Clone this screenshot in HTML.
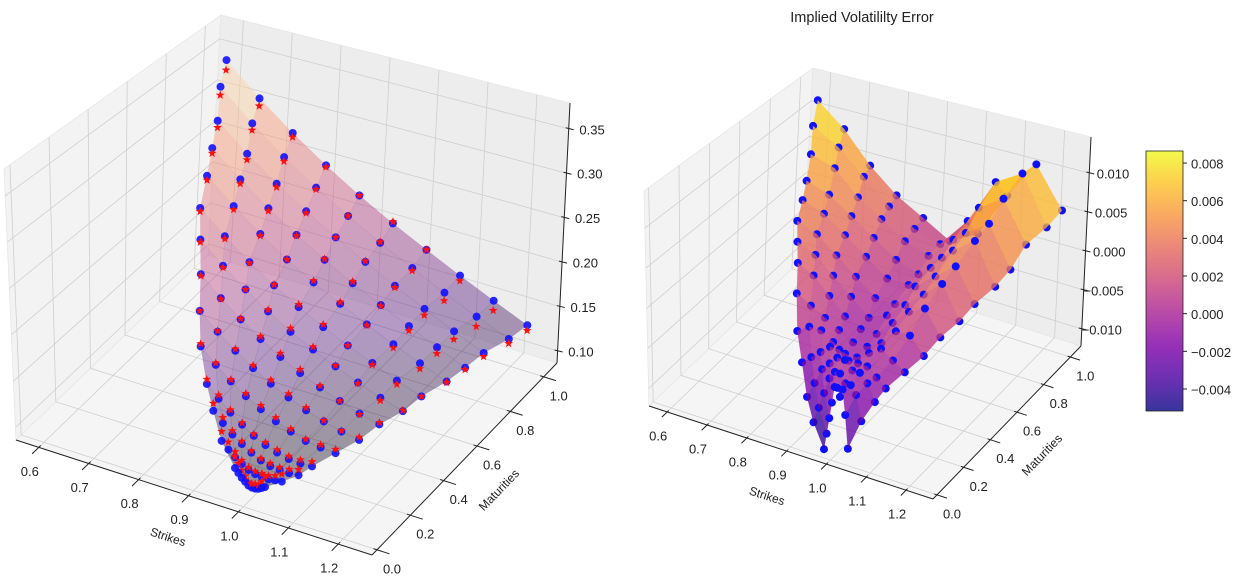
<!DOCTYPE html>
<html><head><meta charset="utf-8">
<style>
html,body{margin:0;padding:0;background:#fff;}
svg{display:block;font-family:"Liberation Sans","DejaVu Sans",sans-serif;}
</style></head>
<body>
<svg id="fig" width="1245" height="582" viewBox="0 0 1245 582">
  <defs>
    <linearGradient id="plasmaGrad" x1="0" y1="1" x2="0" y2="0">
      <stop offset="0" stop-color="#0d0887"/>
      <stop offset="0.125" stop-color="#4c02a1"/>
      <stop offset="0.25" stop-color="#7e03a8"/>
      <stop offset="0.375" stop-color="#a92395"/>
      <stop offset="0.5" stop-color="#cc4778"/>
      <stop offset="0.625" stop-color="#e56b5d"/>
      <stop offset="0.75" stop-color="#f89540"/>
      <stop offset="0.875" stop-color="#fdc328"/>
      <stop offset="1" stop-color="#f0f921"/>
    </linearGradient>
  </defs>
  <g id="leftPlot"></g>
  <g id="rightPlot"></g>
  <text x="862" y="22" font-size="14.5" text-anchor="middle" fill="#222">Implied Volatililty Error</text>
  <text x="168" y="537" font-size="12" text-anchor="middle" dominant-baseline="central" fill="#222" transform="rotate(18 168 537)">Strikes</text>
  <text x="499" y="490" font-size="12" text-anchor="middle" dominant-baseline="central" fill="#222" transform="rotate(-46 499 490)">Maturities</text>
  <text x="767" y="496" font-size="12" text-anchor="middle" dominant-baseline="central" fill="#222" transform="rotate(18 767 496)">Strikes</text>
  <text x="1042" y="455" font-size="12" text-anchor="middle" dominant-baseline="central" fill="#222" transform="rotate(-46 1042 455)">Maturities</text>
  <g id="colorbar">
    <rect x="1146" y="151" width="37" height="260" fill="url(#plasmaGrad)" opacity="0.82"/>
    <rect x="1146" y="151" width="37" height="260" fill="none" stroke="#222" stroke-width="0.8"/>
  </g>
</svg>
<script>
// ---- data ----
const maturities = [0.04,0.08,0.12,0.17,0.25,0.33,0.42,0.5,0.58,0.67,0.75,0.83,0.92,1.0];
const strikeLow  = [0.97,0.93,0.90,0.87,0.83,0.80,0.77,0.74,0.71,0.69,0.67,0.65,0.62,0.60];
const strikeHigh = [1.03,1.05,1.07,1.08,1.10,1.12,1.13,1.15,1.16,1.18,1.19,1.20,1.22,1.23];
const impliedVol = [
 [0.115,0.111,0.107,0.104,0.101,0.100,0.100,0.101,0.103,0.105],
 [0.130,0.123,0.117,0.112,0.108,0.106,0.105,0.105,0.106,0.107],
 [0.150,0.140,0.131,0.124,0.118,0.113,0.110,0.109,0.109,0.110],
 [0.165,0.153,0.142,0.133,0.125,0.119,0.115,0.112,0.111,0.112],
 [0.185,0.170,0.157,0.146,0.137,0.129,0.123,0.118,0.116,0.115],
 [0.205,0.188,0.173,0.160,0.149,0.140,0.132,0.126,0.121,0.118],
 [0.225,0.205,0.188,0.173,0.160,0.149,0.140,0.132,0.125,0.120],
 [0.245,0.223,0.204,0.187,0.172,0.160,0.149,0.139,0.130,0.123],
 [0.262,0.238,0.217,0.199,0.183,0.169,0.157,0.146,0.135,0.126],
 [0.280,0.254,0.231,0.211,0.194,0.179,0.165,0.152,0.140,0.129],
 [0.295,0.268,0.244,0.223,0.204,0.187,0.172,0.158,0.144,0.131],
 [0.310,0.281,0.256,0.234,0.214,0.196,0.179,0.163,0.148,0.134],
 [0.330,0.297,0.268,0.243,0.221,0.201,0.183,0.166,0.150,0.136],
 [0.345,0.310,0.280,0.253,0.229,0.208,0.189,0.171,0.154,0.138]
];
const volError = [
 [-0.012,-0.010,-0.008,-0.006,-0.004,-0.004,-0.005,-0.004,-0.007,-0.011],
 [-0.010,-0.008,-0.006,-0.004,-0.003,-0.003,-0.004,-0.004,-0.005,-0.008],
 [-0.008,-0.006,-0.004,-0.003,-0.002,-0.002,-0.003,-0.003,-0.004,-0.006],
 [-0.005,-0.004,-0.003,-0.002,-0.002,-0.003,-0.003,-0.003,-0.004,-0.005],
 [-0.003,-0.002,-0.002,-0.003,-0.004,-0.004,-0.003,-0.002,-0.003,-0.004],
 [0.000,-0.001,-0.002,-0.003,-0.004,-0.004,-0.003,-0.001,-0.001,-0.003],
 [0.002,0.001,-0.001,-0.003,-0.004,-0.004,-0.002,0.000,0.001,-0.002],
 [0.003,0.002,0.000,-0.002,-0.004,-0.003,-0.001,0.001,0.003,-0.001],
 [0.004,0.003,0.001,-0.001,-0.003,-0.003,0.000,0.002,0.004,0.000],
 [0.005,0.004,0.002,0.000,-0.002,-0.002,0.001,0.004,0.006,0.001],
 [0.006,0.005,0.003,0.001,-0.001,-0.002,0.001,0.005,0.007,0.002],
 [0.008,0.007,0.004,0.002,0.000,-0.001,0.002,0.007,0.009,0.004],
 [0.010,0.008,0.005,0.002,0.000,-0.001,0.003,0.009,0.011,0.005],
 [0.012,0.009,0.005,0.002,0.000,-0.002,0.000,0.006,0.011,0.006]
];
const xTickValues = [0.6,0.7,0.8,0.9,1.0,1.1,1.2];
const yTickValues = [0.0,0.2,0.4,0.6,0.8,1.0];
const zTickLeft = [0.10,0.15,0.20,0.25,0.30,0.35];
const zTickRight = [-0.010,-0.005,0.000,0.005,0.010];
const cbTickValues = [-0.004,-0.002,0.000,0.002,0.004,0.006,0.008];

// ---- configuration ----
const NS = "http://www.w3.org/2000/svg";
const nCols = 10;
const leftCfg = {
  C: [[[[16,440],[4,169]],[[208,255],[221,15]]],[[[372,555],[373,270]],[[557,363],[570,103]]]],
  xlim:[0.5543,1.2677], ylim:[-0.03,1.08], zlim:[0.0865,0.379]
};
const rightCfg = {
  C: [[[[649,406],[644,191]],[[803,258],[813,68]]],[[[933,499],[935,274]],[[1081,346],[1091,137]]]],
  xlim:[0.5543,1.2677], ylim:[-0.03,1.08], zlim:[-0.01218,0.01462]
};
const cbMin = -0.00517, cbMax = 0.00864, cbTop = 151, cbBottom = 411;
const surfMin = -0.012, surfMax = 0.012;

const magma = [[0,0,0,4],[0.25,81,18,124],[0.5,183,55,121],[0.75,252,137,97],[1,252,253,191]];
const plasma = [[0,13,8,135],[0.125,76,2,161],[0.25,126,3,168],[0.375,169,35,149],[0.5,204,71,120],[0.625,229,107,93],[0.75,248,149,64],[0.875,253,195,40],[1,240,249,33]];
function cmap(stops,t){
  t=Math.max(0,Math.min(1,t));
  for(let i=1;i<stops.length;i++){
    if(t<=stops[i][0]){
      const a=stops[i-1],b=stops[i],f=(t-a[0])/(b[0]-a[0]);
      return `rgb(${Math.round(a[1]+(b[1]-a[1])*f)},${Math.round(a[2]+(b[2]-a[2])*f)},${Math.round(a[3]+(b[3]-a[3])*f)})`;
    }
  }
  return `rgb(${stops[stops.length-1].slice(1).join(',')})`;
}
function P(cfg,u,v,w){
  let x=0,y=0;
  for(let i=0;i<2;i++)for(let j=0;j<2;j++)for(let k=0;k<2;k++){
    const wt=(i?u:1-u)*(j?v:1-v)*(k?w:1-w);
    x+=wt*cfg.C[i][j][k][0]; y+=wt*cfg.C[i][j][k][1];
  }
  return [x,y];
}
function U(cfg,K){return (K-cfg.xlim[0])/(cfg.xlim[1]-cfg.xlim[0]);}
function V(cfg,T){return (T-cfg.ylim[0])/(cfg.ylim[1]-cfg.ylim[0]);}
function W(cfg,z){return (z-cfg.zlim[0])/(cfg.zlim[1]-cfg.zlim[0]);}
function depth(u,v,w){return 0.433*u-0.75*v+0.5*w;}
function mk(parent,tag,attrs){
  const el=document.createElementNS(NS,tag);
  for(const k in attrs) el.setAttribute(k,attrs[k]);
  parent.appendChild(el);
  return el;
}
function pts(arr){return arr.map(p=>p[0].toFixed(1)+","+p[1].toFixed(1)).join(" ");}
function fmt(v,d){const s=Math.abs(v).toFixed(d);return (v< -1e-12?"\u2212":"")+s;}
function strikeAt(r,c){return strikeLow[r]+(strikeHigh[r]-strikeLow[r])*c/(nCols-1);}

function drawAxes(g,cfg,zTicks,zDec,zLabelEnd){
  const C=(u,v,w)=>P(cfg,u,v,w);
  const panes=[
    {p:[C(0,0,0),C(0,1,0),C(0,1,1),C(0,0,1)],fill:"#f3f3f3",name:"left-wall-pane"},
    {p:[C(0,1,0),C(1,1,0),C(1,1,1),C(0,1,1)],fill:"#ededed",name:"back-wall-pane"},
    {p:[C(0,0,0),C(1,0,0),C(1,1,0),C(0,1,0)],fill:"#f5f5f5",name:"floor-pane"}
  ];
  panes.forEach(pn=>{
    const el=mk(g,"polygon",{points:pts(pn.p),fill:pn.fill,stroke:"#e6e6e6","stroke-width":0.8});
    
    
  });
  const gl={stroke:"#cfcfcf","stroke-width":0.8};
  xTickValues.forEach(x=>{const u=U(cfg,x);
    const el=mk(g,"polyline",Object.assign({points:pts([C(u,0,0),C(u,1,0),C(u,1,1)]),fill:"none"},gl));
    
    
  });
  yTickValues.forEach(y=>{const v=V(cfg,y);
    const el=mk(g,"polyline",Object.assign({points:pts([C(1,v,0),C(0,v,0),C(0,v,1)]),fill:"none"},gl));
    
    
  });
  zTicks.forEach(z=>{const w=W(cfg,z);
    const el=mk(g,"polyline",Object.assign({points:pts([C(0,0,w),C(0,1,w),C(1,1,w)]),fill:"none"},gl));
    
    
  });
  const ax=[[C(0,0,0),C(1,0,0),"x-axis-line"],[C(1,0,0),C(1,1,0),"y-axis-line"],[C(1,1,0),C(1,1,1),"z-axis-line"]];
  ax.forEach(a=>{
    const el=mk(g,"line",{x1:a[0][0],y1:a[0][1],x2:a[1][0],y2:a[1][1],stroke:"#222","stroke-width":1});
    
    
  });
  xTickValues.forEach(x=>{const u=U(cfg,x);
    const a=C(u,0.01,0),b=C(u,-0.035,0);
    const t=mk(g,"line",{x1:a[0],y1:a[1],x2:b[0],y2:b[1],stroke:"#222","stroke-width":1});
    
    
    const p=C(u,0,0);
    const lb=mk(g,"text",{x:p[0]-9,y:p[1]+24,"font-size":13,"text-anchor":"middle","dominant-baseline":"central",fill:"#222"});
    lb.textContent=x.toFixed(1);
    
    
  });
  yTickValues.forEach(y=>{const v=V(cfg,y);
    const a=C(0.99,v,0),b=C(1.035,v,0);
    const t=mk(g,"line",{x1:a[0],y1:a[1],x2:b[0],y2:b[1],stroke:"#222","stroke-width":1});
    
    
    const p=C(1,v,0);
    const lb=mk(g,"text",{x:p[0]+15,y:p[1]+19,"font-size":13,"text-anchor":"middle","dominant-baseline":"central",fill:"#222"});
    lb.textContent=y.toFixed(1);
    
    
  });
  zTicks.forEach(z=>{const w=W(cfg,z);
    const p=C(1,1,w);
    const t=mk(g,"line",{x1:p[0]-3,y1:p[1]-1,x2:p[0]+5,y2:p[1]+1,stroke:"#222","stroke-width":1});
    
    
    const lb=mk(g,"text",{x:p[0]+zLabelEnd,y:p[1]+1,"font-size":13,"text-anchor":"end","dominant-baseline":"central",fill:"#222"});
    lb.textContent=fmt(z,zDec);
    
    
  });
}

function starPts(x,y,R){
  const r=R*0.42, out=[];
  for(let i=0;i<10;i++){const a=-Math.PI/2+i*Math.PI/5, rr=i%2?r:R; out.push([x+rr*Math.cos(a),y+rr*Math.sin(a)]);}
  return pts(out);
}

// ---- left plot ----
(function(){
  const g=document.getElementById("leftPlot"), cfg=leftCfg;
  drawAxes(g,cfg,zTickLeft,2,36);
  let zmin=Infinity,zmax=-Infinity;
  impliedVol.forEach(r=>r.forEach(v=>{zmin=Math.min(zmin,v);zmax=Math.max(zmax,v);}));
  const quads=[];
  for(let r=0;r<maturities.length-1;r++)for(let c=0;c<nCols-1;c++){
    const corners=[[r,c],[r,c+1],[r+1,c+1],[r+1,c]];
    let du=0,dv=0,dw=0,zs=0;
    const p=corners.map(([rr,cc])=>{const u=U(cfg,strikeAt(rr,cc)),v=V(cfg,maturities[rr]),w=W(cfg,impliedVol[rr][cc]);du+=u;dv+=v;dw+=w;zs+=impliedVol[rr][cc];return P(cfg,u,v,w);});
    quads.push({p,d:depth(du/4,dv/4,dw/4),z:zs/4});
  }
  quads.sort((a,b)=>a.d-b.d);
  const sg=mk(g,"g",{});
  
  
  quads.forEach(q=>{
    const col=cmap(magma,(q.z-zmin)/(zmax-zmin));
    const el=mk(sg,"polygon",{points:pts(q.p),fill:col,"fill-opacity":0.4,stroke:col,"stroke-opacity":0.15,"stroke-width":0.4});
    
    
  });
  const marks=[];
  for(let r=0;r<maturities.length;r++)for(let c=0;c<nCols;c++){
    const u=U(cfg,strikeAt(r,c)),v=V(cfg,maturities[r]);
    const w1=W(cfg,impliedVol[r][c]), w2=W(cfg,impliedVol[r][c]-volError[r][c]);
    marks.push({d:depth(u,v,w1),a:P(cfg,u,v,w1),b:P(cfg,u,v,w2)});
  }
  marks.sort((a,b)=>a.d-b.d);
  const mg=mk(g,"g",{});
  
  
  marks.forEach(m=>{
    const c=mk(mg,"circle",{cx:m.a[0],cy:m.a[1],r:4,fill:"#1010ff","fill-opacity":0.9});
    
    
    const s=mk(mg,"polygon",{points:starPts(m.b[0],m.b[1],4.6),fill:"#ff1010"});
    
    
  });
})();

// ---- right plot ----
(function(){
  const g=document.getElementById("rightPlot"), cfg=rightCfg;
  drawAxes(g,cfg,zTickRight,3,40);
  const items=[];
  for(let r=0;r<maturities.length-1;r++)for(let c=0;c<nCols-1;c++){
    const corners=[[r,c],[r,c+1],[r+1,c+1],[r+1,c]];
    let du=0,dv=0,dw=0,zs=0;
    const p=corners.map(([rr,cc])=>{const u=U(cfg,strikeAt(rr,cc)),v=V(cfg,maturities[rr]),w=W(cfg,volError[rr][cc]);du+=u;dv+=v;dw+=w;zs+=volError[rr][cc];return P(cfg,u,v,w);});
    items.push({t:"q",p,d:depth(du/4,dv/4,dw/4),z:zs/4});
  }
  for(let r=0;r<maturities.length;r++)for(let c=0;c<nCols;c++){
    const u=U(cfg,strikeAt(r,c)),v=V(cfg,maturities[r]),w=W(cfg,volError[r][c]);
    items.push({t:"p",p:P(cfg,u,v,w),d:depth(u,v,w)+0.004});
  }
  items.sort((a,b)=>a.d-b.d);
  const sg=mk(g,"g",{});
  
  
  items.forEach(it=>{
    if(it.t==="q"){
      const col=cmap(plasma,(it.z-surfMin)/(surfMax-surfMin));
      const el=mk(sg,"polygon",{points:pts(it.p),fill:col,"fill-opacity":0.78,stroke:col,"stroke-opacity":0.3,"stroke-width":0.4});
      
      
    } else {
      const el=mk(sg,"circle",{cx:it.p[0],cy:it.p[1],r:4,fill:"#1010ff"});
      
      
    }
  });
})();

// ---- colorbar ticks ----
(function(){
  const g=document.getElementById("colorbar");
  cbTickValues.forEach(v=>{
    const y=cbBottom-(v-cbMin)/(cbMax-cbMin)*(cbBottom-cbTop);
    const t=mk(g,"line",{x1:1183,y1:y,x2:1187,y2:y,stroke:"#222","stroke-width":1});
    
    
    const lb=mk(g,"text",{x:1191,y:y+1,"font-size":13,"dominant-baseline":"central",fill:"#222"});
    lb.textContent=fmt(v,3);
    
    
  });
})();
</script>
</body></html>
